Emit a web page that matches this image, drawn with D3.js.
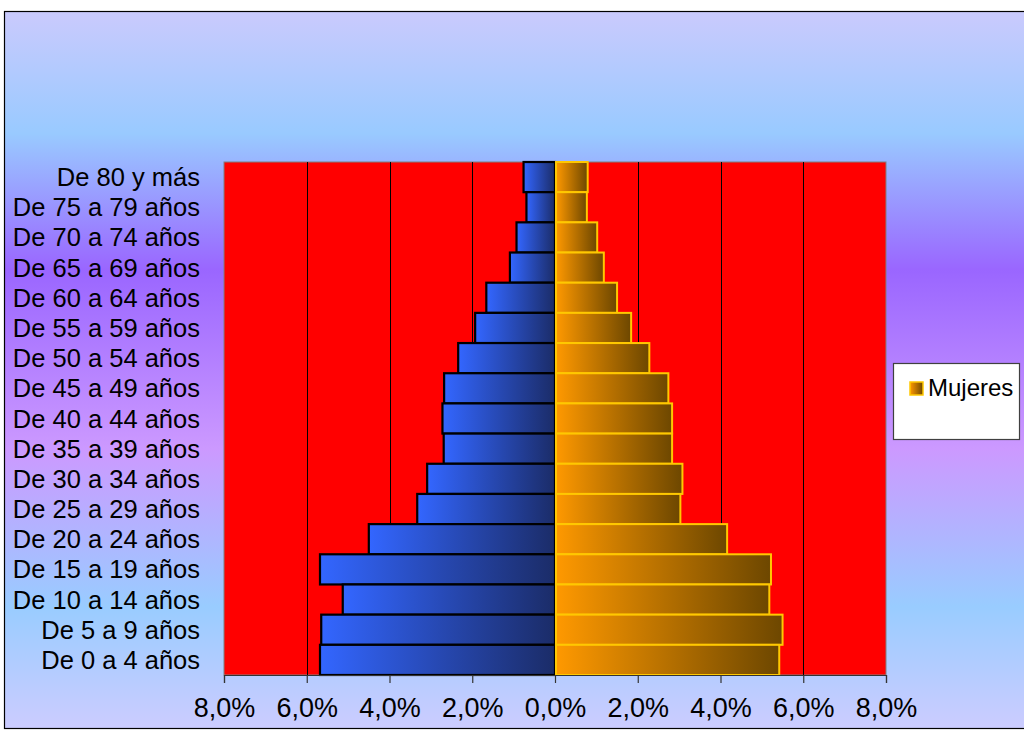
<!DOCTYPE html>
<html>
<head>
<meta charset="utf-8">
<script src="https://cdn.jsdelivr.net/npm/d3@7"></script>
<style>
  html, body { margin: 0; padding: 0; background: #ffffff; }
  svg { display: block; font-family: "Liberation Sans", Arial, sans-serif; }
</style>
</head>
<body>
<svg id="chart" width="1024" height="730"></svg>
<script>
// Age groups, listed from the oldest (top) to the youngest (bottom)
const ageGroups = [
  "De 80 y más", "De 75 a 79 años", "De 70 a 74 años", "De 65 a 69 años",
  "De 60 a 64 años", "De 55 a 59 años", "De 50 a 54 años", "De 45 a 49 años",
  "De 40 a 44 años", "De 35 a 39 años", "De 30 a 34 años", "De 25 a 29 años",
  "De 20 a 24 años", "De 15 a 19 años", "De 10 a 14 años", "De 5 a 9 años",
  "De 0 a 4 años"
];
// Share of the total population (%), same order as ageGroups
const hombres = [0.76, 0.69, 0.93, 1.09, 1.66, 1.93, 2.34, 2.68, 2.72, 2.69, 3.09, 3.33, 4.50, 5.68, 5.13, 5.65, 5.68];
const mujeres = [0.79, 0.77, 1.02, 1.18, 1.50, 1.84, 2.28, 2.74, 2.83, 2.83, 3.08, 3.03, 4.16, 5.22, 5.18, 5.50, 5.42];
const tickValues = [-8, -6, -4, -2, 0, 2, 4, 6, 8];
const legendLabels = ["Mujeres"];

const svg = d3.select("#chart");
const defs = svg.append("defs");

// Background of the chart area
const bg = defs.append("linearGradient").attr("id", "bgGrad")
  .attr("x1", 0).attr("y1", 0).attr("x2", 0).attr("y2", 1);
[[0, "#cacafd"], [0.17, "#99caff"], [0.36, "#9a66ff"], [0.61, "#cc99ff"], [0.83, "#99ccff"], [1, "#ccccff"]]
  .forEach(([o, c]) => bg.append("stop").attr("offset", o).attr("stop-color", c));

const blue = defs.append("linearGradient").attr("id", "blueGrad");
blue.append("stop").attr("offset", 0).attr("stop-color", "#3366ff");
blue.append("stop").attr("offset", 1).attr("stop-color", "#1b2c68");

const orange = defs.append("linearGradient").attr("id", "orangeGrad");
orange.append("stop").attr("offset", 0).attr("stop-color", "#ff9900");
orange.append("stop").attr("offset", 1).attr("stop-color", "#6d4700");

svg.append("rect").attr("x", 4.5).attr("y", 11.5).attr("width", 1030).attr("height", 717)
  .attr("fill", "url(#bgGrad)").attr("stroke", "#000").attr("stroke-width", 1.2);

const plot = { left: 224, right: 886, top: 162, bottom: 675 };

const x = d3.scaleLinear().domain([-8, 8]).range([plot.left, plot.right]);
const y = d3.scaleBand().domain(ageGroups).range([plot.top, plot.bottom]).padding(0);

// Plot area
svg.append("rect")
  .attr("x", plot.left).attr("y", plot.top)
  .attr("width", plot.right - plot.left).attr("height", plot.bottom - plot.top)
  .attr("fill", "#ff0000").attr("stroke", "#808080").attr("stroke-width", 1);

// Vertical gridlines
svg.append("g").selectAll("line")
  .data(tickValues.filter(t => t !== 0 && Math.abs(t) !== 8))
  .join("line")
  .attr("x1", d => Math.round(x(d)) + 0.5).attr("x2", d => Math.round(x(d)) + 0.5)
  .attr("y1", plot.top).attr("y2", plot.bottom)
  .attr("stroke", "#000").attr("stroke-width", 1);

// Men (left side)
svg.append("g").selectAll("rect")
  .data(ageGroups.map((g, i) => ({ g, v: hombres[i] })))
  .join("rect")
  .attr("x", d => x(-d.v))
  .attr("y", d => y(d.g))
  .attr("width", d => x(0) - x(-d.v))
  .attr("height", y.bandwidth())
  .attr("fill", "url(#blueGrad)")
  .attr("stroke", "#000").attr("stroke-width", 2.2);

// Women (right side)
svg.append("g").selectAll("rect")
  .data(ageGroups.map((g, i) => ({ g, v: mujeres[i] })))
  .join("rect")
  .attr("x", x(0) + 1)
  .attr("y", d => y(d.g))
  .attr("width", d => x(d.v) - x(0) - 1)
  .attr("height", y.bandwidth())
  .attr("fill", "url(#orangeGrad)")
  .attr("stroke", "#ffc800").attr("stroke-width", 2);

// Horizontal axis
const locale = d3.formatLocale({ decimal: ",", thousands: ".", grouping: [3], currency: ["", "€"] });
const pct = locale.format(".1f");
const xAxis = d3.axisBottom(x)
  .tickValues(tickValues)
  .tickSize(8)
  .tickPadding(10)
  .tickFormat(d => pct(Math.abs(d)) + "%");
const gx = svg.append("g").attr("transform", `translate(0,${plot.bottom})`).call(xAxis);
gx.select(".domain").attr("stroke", "#333").attr("stroke-width", 1.2);
gx.selectAll(".tick line").attr("stroke", "#333").attr("stroke-width", 1.2);
gx.selectAll(".tick text")
  .attr("fill", "#000")
  .style("font-size", "27px")
  .attr("y", null).attr("dy", null)
  .attr("transform", "translate(0,42)");

// Age group labels
svg.append("g").selectAll("text")
  .data(ageGroups)
  .join("text")
  .attr("x", 200)
  .attr("y", d => y(d) + y.bandwidth() / 2 + 9)
  .attr("text-anchor", "end")
  .style("font-size", "25.5px")
  .attr("fill", "#000")
  .text(d => d);

// Legend
const lg = svg.append("g");
lg.append("rect").attr("x", 893.5).attr("y", 363.5).attr("width", 126).attr("height", 76)
  .attr("fill", "#fff").attr("stroke", "#404040").attr("stroke-width", 1.2);
legendLabels.forEach((label, i) => {
  lg.append("rect").attr("x", 910).attr("y", 382 + i * 30).attr("width", 13).attr("height", 13)
    .attr("fill", "url(#orangeGrad)").attr("stroke", "#ffc800").attr("stroke-width", 1.5);
  lg.append("text").attr("x", 928).attr("y", 396 + i * 30)
    .style("font-size", "24px").attr("fill", "#000").text(label);
});
</script>
</body>
</html>
